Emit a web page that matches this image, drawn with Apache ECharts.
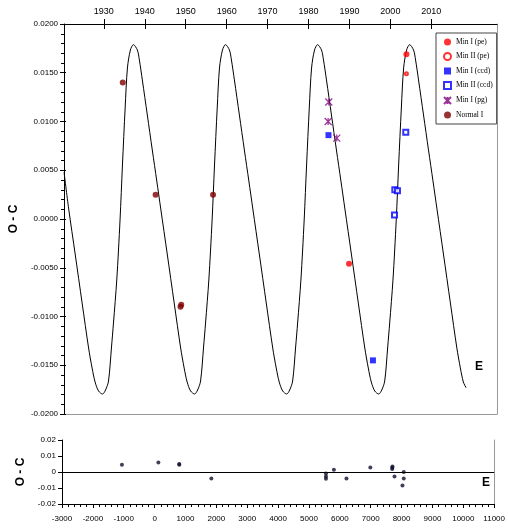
<!DOCTYPE html>
<html>
<head>
<meta charset="utf-8">
<script src="https://cdn.jsdelivr.net/npm/echarts@6/dist/echarts.min.js"></script>
<style>
  html, body { margin: 0; padding: 0; background: #fff; }
  #chart { width: 508px; height: 529px; }
</style>
</head>
<body>
<div id="chart"></div>
<script>
// fitted light-time curve (E, O-C)
const curvePts = [
  [-3000, 0.0048], [-2849, 0.00103], [-2640, -0.00359], [-2415, -0.00862], [-2206, -0.01323],
  [-2093, -0.01528], [-1996, -0.01672], [-1884, -0.01764],
  [-1755, -0.01795], [-1658, -0.01754], [-1562, -0.01662], [-1465, -0.01313], [-1401, -0.01067],
  [-1295, -0.00626], [-1189, -0.00010], [-1111, 0.00554], [-1024, 0.01138], [-950, 0.01549],
  [-854, 0.01733], [-757, 0.01788], [-629, 0.01733], [-564, 0.01631], [-468, 0.01426],
  [-307, 0.01067], [-146, 0.00708], [-1, 0.00390], [128, 0.00103], [337, -0.00359],
  [562, -0.00862], [771, -0.01323], [884, -0.01528], [981, -0.01672], [1093, -0.01764],
  [1222, -0.01795], [1319, -0.01754], [1415, -0.01662], [1512, -0.01313], [1576, -0.01067],
  [1682, -0.00626], [1788, -0.00010], [1866, 0.00554], [1953, 0.01138], [2027, 0.01549],
  [2123, 0.01733], [2220, 0.01788], [2348, 0.01733], [2413, 0.01631], [2509, 0.01426],
  [2670, 0.01067], [2831, 0.00708], [2976, 0.00390], [3105, 0.00103], [3314, -0.00359],
  [3539, -0.00862], [3748, -0.01323], [3861, -0.01528], [3958, -0.01672], [4070, -0.01764],
  [4199, -0.01795], [4296, -0.01754], [4392, -0.01662], [4489, -0.01313], [4553, -0.01067],
  [4659, -0.00626], [4765, -0.00010], [4843, 0.00554], [4930, 0.01138], [5004, 0.01549],
  [5100, 0.01733], [5197, 0.01788], [5325, 0.01733], [5390, 0.01631], [5486, 0.01426],
  [5647, 0.01067], [5808, 0.00708], [5953, 0.00390], [6082, 0.00103], [6291, -0.00359],
  [6516, -0.00862], [6725, -0.01323], [6838, -0.01528], [6935, -0.01672], [7047, -0.01764],
  [7176, -0.01795], [7273, -0.01754], [7369, -0.01662], [7466, -0.01313], [7530, -0.01067],
  [7636, -0.00626], [7742, -0.00010], [7820, 0.00554], [7907, 0.01138], [7981, 0.01549],
  [8077, 0.01733], [8174, 0.01788], [8302, 0.01733], [8367, 0.01631], [8463, 0.01426],
  [8624, 0.01067], [8785, 0.00708], [8930, 0.00390], [9059, 0.00103], [9268, -0.00359],
  [9493, -0.00862], [9702, -0.01323], [9815, -0.01528], [9912, -0.01672], [10000, -0.0173]
]

// observed minima
const minIpe = [[6215, -0.0046], [8071, 0.0169]]
const minIIpe = [[8071, 0.0149]]
const minIccd = [[5551, 0.0086], [6988, -0.0145]]
const minIIccd = [[8050, 0.0089], [7696, 0.0030], [7782, 0.0029], [7686, 0.0004]]
const minIpg = [[5561, 0.0120], [5540, 0.0100], [5819, 0.0083]]
const normalI = [[-1101, 0.0140], [-39, 0.0025], [766, -0.0090], [790, -0.0088], [1818, 0.0025]]

// residuals (lower panel)
const residuals = [
  [-1059, 0.0045], [122, 0.0059], [798, 0.0050], [798, 0.0045], [1838, -0.0040],
  [5551, -0.0010], [5551, -0.0028], [5551, -0.0042], [5808, 0.0014], [6215, -0.0040],
  [6988, 0.0028], [7696, 0.0018], [7700, 0.0026], [7705, 0.0034], [7771, -0.0028],
  [8071, 0.0000], [8071, -0.0040], [8029, -0.0084]
]

// top axis: calendar years
const yearTicks = [1930, 1940, 1950, 1960, 1970, 1980, 1990, 2000, 2010]
const yearMin = 1920.27
const yearMax = 2026.05

const SANS = 'Liberation Sans, Arial, sans-serif'
const SERIF = 'Liberation Serif, Times New Roman, serif'
const pgPath = 'path://M0,0L10,10M10,0L0,10M5,0L5,10'

const chart = echarts.init( document.getElementById( 'chart' ) )

const frameLine = color => ( { show : true, onZero : false, lineStyle : { color, width : 1 } } )
const nameStyle = { fontFamily : SANS, fontSize : 12, fontWeight : 'bold', color : '#000' }

chart.setOption( {
  animation : false,
  backgroundColor : '#fff',
  grid : [
    { left : 62, top : 24, width : 435, height : 390 },
    { left : 62, top : 440, width : 435, height : 64 }
  ],
  legend : {
    left : 436,
    top : 33,
    orient : 'vertical',
    padding : [5, 4, 5, 7],
    itemGap : 6,
    itemWidth : 7,
    itemHeight : 7,
    backgroundColor : '#fff',
    borderColor : '#444',
    borderWidth : 1,
    textStyle : { fontFamily : SERIF, fontSize : 7.5, color : '#000' },
    data : ['Min I (pe)', 'Min II (pe)', 'Min I (ccd)', 'Min II (ccd)', 'Min I (pg)', 'Normal I']
  },
  xAxis : [
    {
      type : 'value', gridIndex : 0, position : 'bottom', min : -3000, max : 11000,
      axisLine : frameLine( '#999' ),
      axisTick : { show : false }, axisLabel : { show : false }, splitLine : { show : false }
    },
    {
      type : 'value',
      gridIndex : 0,
      position : 'top',
      min : yearMin,
      max : yearMax,
      axisLine : frameLine( '#000' ),
      axisTick : { show : true, customValues : yearTicks, length : 5, lineStyle : { color : '#000' } },
      axisLabel : {
        show : true, customValues : yearTicks, margin : 8, fontFamily : SANS, fontSize : 9, color : '#000',
        formatter : v => String( v )
      },
      splitLine : { show : false }
    },
    {
      type : 'value',
      gridIndex : 0,
      position : 'top',
      min : yearMin,
      max : yearMax,
      axisLine : { show : false, onZero : false },
      axisTick : { show : true, inside : true, customValues : yearTicks, length : 5, lineStyle : { color : '#000' } },
      axisLabel : { show : false },
      splitLine : { show : false }
    },
    {
      type : 'value',
      gridIndex : 1,
      position : 'bottom',
      min : -3000,
      max : 11000,
      interval : 1000,
      axisLine : frameLine( '#000' ),
      axisTick : { show : true, length : 4, lineStyle : { color : '#000' } },
      minorTick : { show : true, splitNumber : 5, length : 3, lineStyle : { color : '#000' } },
      axisLabel : { fontFamily : SANS, fontSize : 8, color : '#000', margin : 11, formatter : v => String( v ) },
      splitLine : { show : false }
    }
  ],
  yAxis : [
    {
      type : 'value',
      gridIndex : 0,
      position : 'left',
      min : -0.02,
      max : 0.02,
      interval : 0.005,
      name : 'O - C',
      nameLocation : 'middle',
      nameRotate : 90,
      nameGap : 40,
      nameTextStyle : nameStyle,
      axisLine : frameLine( '#000' ),
      axisTick : { show : true, length : 4, lineStyle : { color : '#000' } },
      minorTick : { show : true, splitNumber : 5, length : 3, lineStyle : { color : '#000' } },
      axisLabel : {
        fontFamily : SANS, fontSize : 8, color : '#000', margin : 6,
        formatter : v => v.toFixed( 4 )
      },
      splitLine : { show : false }
    },
    {
      type : 'value', gridIndex : 0, position : 'right', min : -0.02, max : 0.02,
      axisLine : frameLine( '#999' ),
      axisTick : { show : false }, axisLabel : { show : false }, splitLine : { show : false }
    },
    {
      type : 'value',
      gridIndex : 1,
      position : 'left',
      min : -0.02,
      max : 0.02,
      interval : 0.01,
      name : 'O - C',
      nameLocation : 'middle',
      nameRotate : 90,
      nameGap : 26,
      nameTextStyle : nameStyle,
      axisLine : frameLine( '#000' ),
      axisTick : { show : true, length : 4, lineStyle : { color : '#000' } },
      axisLabel : {
        fontFamily : SANS, fontSize : 8, color : '#000', margin : 6,
        formatter : v => ( Math.abs( v ) < 1e-9 ? '0' : v.toFixed( 2 ) )
      },
      splitLine : { show : false }
    },
    {
      type : 'value', gridIndex : 1, position : 'right', min : -0.02, max : 0.02,
      axisLine : frameLine( '#999' ),
      axisTick : { show : false }, axisLabel : { show : false }, splitLine : { show : false }
    },
    {
      // inner half of the crossing ticks on the left O-C axis
      type : 'value', gridIndex : 0, position : 'left', min : -0.02, max : 0.02, interval : 0.005,
      axisLine : { show : false, onZero : false },
      axisTick : { show : true, inside : true, length : 2, lineStyle : { color : '#000' } },
      axisLabel : { show : false }, splitLine : { show : false }
    }
  ],
  graphic : [
    { type : 'text', left : 475, top : 361, style : { text : 'E', font : 'bold 12px ' + SANS, fill : '#000' } },
    { type : 'text', left : 482, top : 477, style : { text : 'E', font : 'bold 12px ' + SANS, fill : '#000' } }
  ],
  series : [
    {
      name : 'fit',
      type : 'line',
      xAxisIndex : 0,
      yAxisIndex : 0,
      data : curvePts,
      smooth : 0.3,
      showSymbol : false,
      lineStyle : { color : '#000', width : 1 },
      z : 1
    },
    {
      name : 'Min I (pe)', type : 'scatter', xAxisIndex : 0, yAxisIndex : 0,
      data : minIpe, symbol : 'circle', symbolSize : 6,
      itemStyle : { color : '#ff0000' }, z : 3
    },
    {
      name : 'Min II (pe)', type : 'scatter', xAxisIndex : 0, yAxisIndex : 0,
      data : minIIpe, symbol : 'emptyCircle', symbolSize : 3,
      itemStyle : { color : '#ff0000', borderColor : '#ff0000', borderWidth : 1 }, z : 3
    },
    {
      name : 'Min I (ccd)', type : 'scatter', xAxisIndex : 0, yAxisIndex : 0,
      data : minIccd, symbol : 'rect', symbolSize : 6,
      itemStyle : { color : '#0000ff' }, z : 3
    },
    {
      name : 'Min II (ccd)', type : 'scatter', xAxisIndex : 0, yAxisIndex : 0,
      data : minIIccd, symbol : 'emptyRect', symbolSize : 5,
      itemStyle : { color : '#0000ff', borderColor : '#0000ff', borderWidth : 1 }, z : 3
    },
    {
      name : 'Min I (pg)', type : 'scatter', xAxisIndex : 0, yAxisIndex : 0,
      data : minIpg, symbol : pgPath, symbolSize : 7,
      itemStyle : { color : '#800080', borderColor : '#800080', borderWidth : 1.2 }, z : 3
    },
    {
      name : 'Normal I', type : 'scatter', xAxisIndex : 0, yAxisIndex : 0,
      data : normalI, symbol : 'circle', symbolSize : 6,
      itemStyle : { color : '#800000' }, z : 3
    },
    {
      name : 'residuals', type : 'scatter', xAxisIndex : 3, yAxisIndex : 2,
      data : residuals, symbol : 'circle', symbolSize : 4,
      itemStyle : { color : '#101030' }, z : 3,
      markLine : {
        silent : true,
        symbol : 'none',
        label : { show : false },
        lineStyle : { color : '#000', width : 1, type : 'solid' },
        data : [{ yAxis : 0 }]
      }
    }
  ]
} )
</script>
</body>
</html>
